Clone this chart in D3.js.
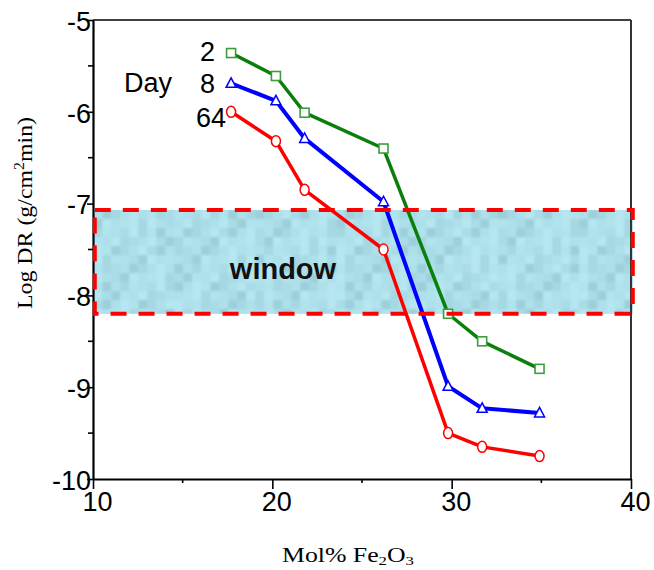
<!DOCTYPE html>
<html>
<head>
<meta charset="utf-8">
<script src="https://cdn.jsdelivr.net/npm/d3@7"></script>
<style>
  html, body { margin: 0; padding: 0; background: #fff; }
  svg { display: block; }
</style>
</head>
<body>
<svg id="chart" width="654" height="570"></svg>
<script>
// Dissolution rate vs Fe2O3 content, for three exposure times
const molFe2O3 = [17.7, 20.2, 21.8, 26.2, 29.8, 31.7, 34.9];
const day2  = [-5.36, -5.61, -6.01, -6.40, -8.20, -8.50, -8.80];
const day8  = [-5.69, -5.88, -6.29, -6.98, -8.99, -9.23, -9.28];
const day64 = [-6.00, -6.32, -6.85, -7.50, -9.50, -9.65, -9.75];
const dayLabels = ["2", "8", "64"];

// processing window band
const windowX = [10.1, 40.1];
const windowY = [-7.07, -8.20];

const xTicks = [10, 20, 30, 40];
const xMinorTicks = [15, 25, 35];
const yTicks = [-5, -6, -7, -8, -9, -10];
const yMinorTicks = [-5.5, -6.5, -7.5, -8.5, -9.5];

const svg = d3.select("#chart");
const x = d3.scaleLinear().domain([10, 40]).range([93, 631]);
const y = d3.scaleLinear().domain([-10, -5]).range([479, 20]);

// --- window band with a mottled fill ---
const wx0 = x(windowX[0]) - 1.5, wx1 = x(windowX[1]);
const wy0 = y(windowY[0]), wy1 = y(windowY[1]);
const shades = ["#ade0ea", "#b6e6f0", "#a5d8e3", "#9ccfda", "#b1e3ed", "#a9dce6"];
const tile = [
  [0, 3, 2, 0, 1, 0, 4, 2, 5],
  [2, 1, 0, 5, 3, 1, 0, 4, 1],
  [4, 0, 5, 1, 2, 4, 3, 0, 2],
  [1, 5, 3, 4, 0, 1, 2, 5, 0],
  [3, 2, 0, 1, 5, 3, 0, 1, 4],
  [0, 4, 1, 2, 4, 0, 5, 3, 1]
];
const cell = 9;
const defs = svg.append("defs");
defs.append("clipPath").attr("id", "bandClip")
  .append("rect").attr("x", wx0).attr("y", wy0)
  .attr("width", wx1 - wx0).attr("height", wy1 - wy0);
defs.append("filter").attr("id", "soft")
  .attr("x", "-2%").attr("y", "-10%").attr("width", "104%").attr("height", "120%")
  .append("feGaussianBlur").attr("stdDeviation", 1.2);

const band = svg.append("g").attr("clip-path", "url(#bandClip)");
band.append("rect")
  .attr("x", wx0).attr("y", wy0)
  .attr("width", wx1 - wx0).attr("height", wy1 - wy0)
  .attr("fill", shades[0]);
const nCols = Math.ceil((wx1 - wx0) / cell) + 1, nRows = Math.ceil((wy1 - wy0) / cell) + 1;
const cells = [];
for (let r = 0; r < nRows; r++) {
  for (let c = 0; c < nCols; c++) {
    const row = tile[(r + Math.floor(c / 9) * 2) % tile.length];
    cells.push({ r, c, s: row[(c + r * 4) % row.length] });
  }
}
band.append("g").attr("filter", "url(#soft)")
  .selectAll("rect").data(cells).join("rect")
  .attr("x", d => wx0 + d.c * cell)
  .attr("y", d => wy0 + d.r * cell)
  .attr("width", cell).attr("height", cell)
  .attr("fill", d => shades[d.s]);

svg.append("text")
  .attr("x", 283).attr("y", 279)
  .attr("text-anchor", "middle")
  .attr("font-family", "Liberation Sans, Arial, sans-serif")
  .attr("font-weight", "bold")
  .attr("font-size", 29)
  .attr("fill", "#111")
  .text("window");

// --- frame ---
svg.append("line").attr("x1", x(10)).attr("x2", x(40)).attr("y1", y(-5)).attr("y2", y(-5))
  .attr("stroke", "#000").attr("stroke-width", 1.5);
svg.append("line").attr("x1", x(40)).attr("x2", x(40)).attr("y1", y(-5)).attr("y2", y(-10))
  .attr("stroke", "#333").attr("stroke-width", 2);

// --- axes ---
const font = "Liberation Sans, Arial, sans-serif";
const plain = d => String(d);
const xAxis = svg.append("g").attr("transform", `translate(0,${y(-10)})`)
  .call(d3.axisBottom(x).tickValues(xTicks).tickSize(10).tickSizeOuter(0).tickFormat(plain));
const yAxis = svg.append("g").attr("transform", `translate(${x(10)},0)`)
  .call(d3.axisLeft(y).tickValues(yTicks).tickSize(6).tickSizeOuter(0).tickFormat(plain));
[xAxis, yAxis].forEach(g => {
  g.select(".domain").attr("stroke", "#000").attr("stroke-width", 2.2);
  g.selectAll(".tick line").attr("stroke", "#000").attr("stroke-width", 1.6);
  g.selectAll("text").attr("font-family", font).attr("font-size", 27).attr("fill", "#000");
});
xAxis.selectAll("text").attr("dx", 4).attr("y", 13);
yAxis.selectAll("text").attr("x", -2).attr("dy", "0.38em");
xAxis.selectAll("line.minor").data(xMinorTicks).join("line")
  .attr("class", "minor")
  .attr("x1", d => x(d)).attr("x2", d => x(d)).attr("y1", 0).attr("y2", 4)
  .attr("stroke", "#000").attr("stroke-width", 1.6);
yAxis.selectAll("line.minor").data(yMinorTicks).join("line")
  .attr("class", "minor")
  .attr("y1", d => y(d)).attr("y2", d => y(d)).attr("x1", 0).attr("x2", -5)
  .attr("stroke", "#000").attr("stroke-width", 1.6);

// axis titles
svg.append("text")
  .attr("x", 348).attr("y", 562)
  .attr("text-anchor", "middle")
  .attr("font-family", "Liberation Serif, Times New Roman, serif")
  .attr("font-size", 20)
  .attr("textLength", 132).attr("lengthAdjust", "spacingAndGlyphs")
  .html('Mol% Fe<tspan font-size="13" dy="3">2</tspan><tspan dy="-3">O</tspan><tspan font-size="13" dy="3">3</tspan>');

svg.append("text")
  .attr("transform", "translate(32,213) rotate(-90)")
  .attr("text-anchor", "middle")
  .attr("font-family", "Liberation Serif, Times New Roman, serif")
  .attr("font-size", 21)
  .attr("textLength", 192).attr("lengthAdjust", "spacingAndGlyphs")
  .html('Log DR (g/cm<tspan font-size="14" dy="-8">2</tspan><tspan dy="8">min)</tspan>');

// --- series ---
const series = [
  { name: dayLabels[0], values: day2,  color: "#0b7f0b", marker: "#3d9d3d", width: 3.5, shape: "square" },
  { name: dayLabels[1], values: day8,  color: "#0000ff", marker: "#0000ff", width: 4,   shape: "triangle" },
  { name: dayLabels[2], values: day64, color: "#ff0000", marker: "#ff0000", width: 3.5, shape: "circle" }
];
const line = d3.line().x(d => x(d[0])).y(d => y(d[1]));

series.forEach(s => {
  const pts = molFe2O3.map((m, i) => [m, s.values[i]]);
  svg.append("path").datum(pts)
    .attr("d", line)
    .attr("fill", "none")
    .attr("stroke", s.color)
    .attr("stroke-width", s.width)
    .attr("stroke-linejoin", "round");
  const g = svg.append("g");
  if (s.shape === "square") {
    g.selectAll("rect").data(pts).join("rect")
      .attr("x", d => x(d[0]) - 4.5).attr("y", d => y(d[1]) - 4.5)
      .attr("width", 9).attr("height", 9)
      .attr("fill", "#fff").attr("stroke", s.marker).attr("stroke-width", 1.6);
  } else if (s.shape === "triangle") {
    g.selectAll("path").data(pts).join("path")
      .attr("d", d => {
        const cx = x(d[0]), cy = y(d[1]);
        return `M${cx},${cy - 5.5}L${cx + 5},${cy + 4}L${cx - 5},${cy + 4}Z`;
      })
      .attr("fill", "#fff").attr("stroke", s.marker).attr("stroke-width", 1.5);
  } else {
    g.selectAll("ellipse").data(pts).join("ellipse")
      .attr("cx", d => x(d[0])).attr("cy", d => y(d[1]))
      .attr("rx", 4.5).attr("ry", 5.5)
      .attr("fill", "#fff").attr("stroke", s.marker).attr("stroke-width", 1.5);
  }
});

// dashed outline of the window band
svg.append("rect")
  .attr("x", x(windowX[0])).attr("y", wy0)
  .attr("width", x(windowX[1]) - x(windowX[0])).attr("height", wy1 - wy0)
  .attr("fill", "none")
  .attr("stroke", "#ff0000").attr("stroke-width", 4)
  .attr("stroke-dasharray", "16,12");

// day labels
svg.append("text").attr("x", 124).attr("y", 92)
  .attr("font-family", font).attr("font-size", 27).text("Day");
const labelPos = [[215, 61], [215, 93], [226, 127]];
dayLabels.forEach((t, i) => {
  svg.append("text").attr("x", labelPos[i][0]).attr("y", labelPos[i][1])
    .attr("text-anchor", "end")
    .attr("font-family", font).attr("font-size", 27).text(t);
});
</script>
</body>
</html>
